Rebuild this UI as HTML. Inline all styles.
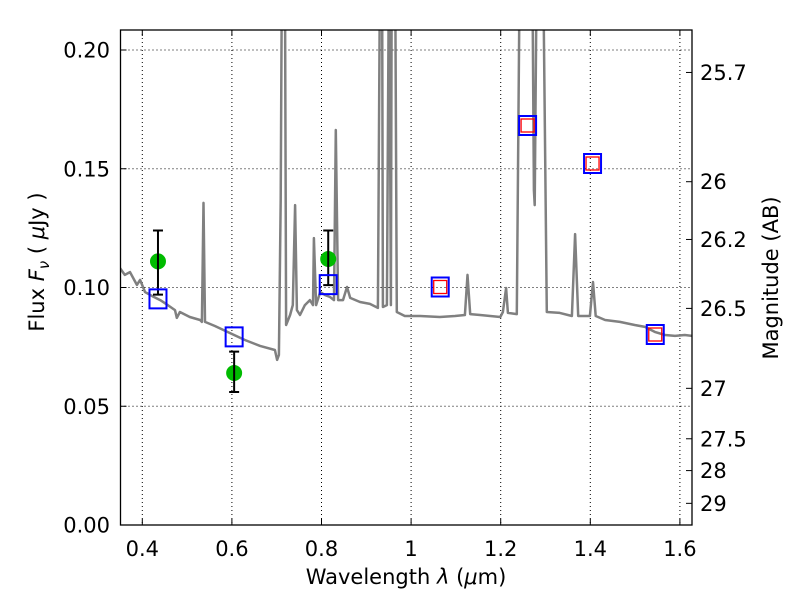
<!DOCTYPE html>
<html><head><meta charset="utf-8"><style>
body{margin:0;background:#fff}
svg{display:block;font-family:"DejaVu Sans","Liberation Sans",sans-serif}
</style></head><body>
<svg id="c" width="800" height="600" xmlns="http://www.w3.org/2000/svg"></svg>
<script>
const specLam=[0.350,0.361,0.3725,0.388,0.395,0.406,0.422,0.440,0.457,0.473,0.477,0.484,0.506,0.529,0.533,0.5366,0.540,0.562,0.596,0.629,0.663,0.696,0.701,0.705,0.709,0.712,0.718,0.721,0.730,0.736,0.741,0.745,0.752,0.763,0.774,0.781,0.783,0.788,0.797,0.808,0.819,0.828,0.832,0.837,0.848,0.857,0.864,0.886,0.908,0.926,0.931,0.935,0.937,0.946,0.951,0.955,0.957,0.964,0.968,0.986,1.020,1.064,1.098,1.120,1.126,1.132,1.154,1.199,1.205,1.212,1.216,1.236,1.243,1.270,1.274,1.276,1.281,1.294,1.303,1.332,1.359,1.366,1.373,1.399,1.406,1.412,1.433,1.466,1.499,1.522,1.544,1.567,1.589,1.611,1.627];
const specFlux=[0.1082,0.1053,0.1065,0.1011,0.1032,0.0981,0.0964,0.0947,0.0926,0.0905,0.0872,0.0897,0.0876,0.0863,0.0855,0.1356,0.0855,0.0838,0.0808,0.0779,0.0754,0.0737,0.0695,0.0716,0.137,0.25,0.25,0.0842,0.0884,0.0926,0.1347,0.0905,0.0884,0.0926,0.0947,0.0926,0.1208,0.0926,0.0981,0.0968,0.096,0.0947,0.1663,0.0947,0.0947,0.1002,0.0956,0.0939,0.0931,0.0914,0.25,0.25,0.0918,0.0926,0.25,0.0926,0.25,0.25,0.0897,0.088,0.088,0.0876,0.088,0.0884,0.1053,0.0888,0.0884,0.0876,0.0897,0.0998,0.0893,0.0888,0.25,0.25,0.141,0.1347,0.25,0.25,0.0897,0.0893,0.088,0.1225,0.088,0.088,0.1023,0.088,0.0863,0.0855,0.0842,0.0834,0.0813,0.08,0.0796,0.08,0.0796];
const obsLam=[0.435,0.605,0.815];
const obsFlux=[0.111,0.064,0.112];
const obsErrHi=[0.124,0.073,0.124];
const obsErrLo=[0.097,0.056,0.101];
const modelLam=[0.435,0.605,0.815,1.065,1.26,1.405,1.545];
const modelFlux=[0.095,0.079,0.101,0.100,0.168,0.152,0.080];
const redLam=[1.065,1.26,1.405,1.545];
const redFlux=[0.100,0.168,0.152,0.080];
const xTicks=[0.4,0.6,0.8,1.0,1.2,1.4,1.6];
const xTickLabels=["0.4","0.6","0.8","1","1.2","1.4","1.6"];
const yTicks=[0,0.05,0.10,0.15,0.20];
const yTickLabels=["0.00","0.05","0.10","0.15","0.20"];
const magTicks=[25.7,26,26.2,26.5,27,27.5,28,29];
const magTickLabels=["25.7","26","26.2","26.5","27","27.5","28","29"];

const L=120.5,R=692,T=30,B=525;
const X=v=>142.3+(v-0.4)*448;
const Y=v=>525-v*2375;
const NS="http://www.w3.org/2000/svg";
const svg=document.getElementById('c');
function mk(tag,attrs,parent){const e=document.createElementNS(NS,tag);for(const k in attrs)e.setAttribute(k,attrs[k]);(parent||svg).appendChild(e);return e;}
const defs=mk('defs',{});
const cp=mk('clipPath',{id:'clip'},defs);
mk('rect',{x:L,y:T,width:R-L,height:B-T},cp);

const grid=mk('g',{stroke:'#000','stroke-width':1,'stroke-dasharray':'1,3'});


xTicks.forEach(v=>mk('line',{x1:X(v),x2:X(v),y1:T,y2:B},grid));
yTicks.forEach(v=>mk('line',{x1:L,x2:R,y1:Y(v),y2:Y(v)},grid));

const pts=specLam.map((l,i)=>X(l).toFixed(1)+','+Y(specFlux[i]).toFixed(1)).join(' ');
const sp=mk('polyline',{points:pts,fill:'none',stroke:'#808080','stroke-width':2.5,'clip-path':'url(#clip)','stroke-linejoin':'round'});



obsLam.forEach((l,i)=>{
  const g=mk('g',{});
  
  
  mk('circle',{cx:X(l),cy:Y(obsFlux[i]),r:8,fill:'#00bb00'},g);
  mk('line',{x1:X(l),x2:X(l),y1:Y(obsErrHi[i]),y2:Y(obsErrLo[i]),stroke:'#000','stroke-width':2},g);
  mk('line',{x1:X(l)-5,x2:X(l)+5,y1:Y(obsErrHi[i]),y2:Y(obsErrHi[i]),stroke:'#000','stroke-width':2},g);
  mk('line',{x1:X(l)-5,x2:X(l)+5,y1:Y(obsErrLo[i]),y2:Y(obsErrLo[i]),stroke:'#000','stroke-width':2},g);
});
modelLam.forEach((l,i)=>{
  const r=mk('rect',{x:X(l)-8.5,y:Y(modelFlux[i])-10,width:17,height:19,fill:'none',stroke:'#0000ff','stroke-width':2});
  
  
});
redLam.forEach((l,i)=>{
  const r=mk('rect',{x:X(l)-6.5,y:Y(redFlux[i])-7,width:13,height:13,fill:'none',stroke:'#ff0000','stroke-width':1.3});
  
  
});

const fr=mk('rect',{x:L,y:T,width:R-L,height:B-T,fill:'none',stroke:'#000','stroke-width':1.3});



const tk=mk('g',{stroke:'#000','stroke-width':1});
xTicks.forEach(v=>{mk('line',{x1:X(v),x2:X(v),y1:B,y2:B-6},tk);mk('line',{x1:X(v),x2:X(v),y1:T,y2:T+6},tk);});
yTicks.forEach(v=>mk('line',{x1:L,x2:L+6,y1:Y(v),y2:Y(v)},tk));
const magY=m=>Y(Math.pow(10,(23.9-m)/2.5));
magTicks.forEach(m=>mk('line',{x1:R,x2:R-6,y1:magY(m),y2:magY(m)},tk));

xTicks.forEach((v,i)=>{const t=mk('text',{x:X(v),y:556,'text-anchor':'middle','font-size':21});t.textContent=xTickLabels[i];
});
yTicks.forEach((v,i)=>{const t=mk('text',{x:110,y:Y(v)+7.5,'text-anchor':'end','font-size':21});t.textContent=yTickLabels[i];
});
magTicks.forEach((m,i)=>{const t=mk('text',{x:700,y:magY(m)+7.5,'text-anchor':'start','font-size':21});t.textContent=magTickLabels[i];
});

const xl=mk('text',{x:406,y:584,'text-anchor':'middle','font-size':21});
xl.innerHTML='Wavelength  <tspan font-style="italic">λ</tspan> (<tspan font-style="italic">μ</tspan>m)';

const yl=mk('text',{x:0,y:0,'text-anchor':'middle','font-size':21,transform:'translate(44,262) rotate(-90)'});
yl.innerHTML='Flux  <tspan font-style="italic">F</tspan><tspan font-style="italic" font-size="15" dy="5">ν</tspan><tspan dy="-5">  ( </tspan><tspan font-style="italic">μ</tspan>Jy )';

const rl=mk('text',{x:0,y:0,'text-anchor':'middle','font-size':21,transform:'translate(778,278) rotate(-90)'});
rl.textContent='Magnitude (AB)';

</script>
</body></html>
